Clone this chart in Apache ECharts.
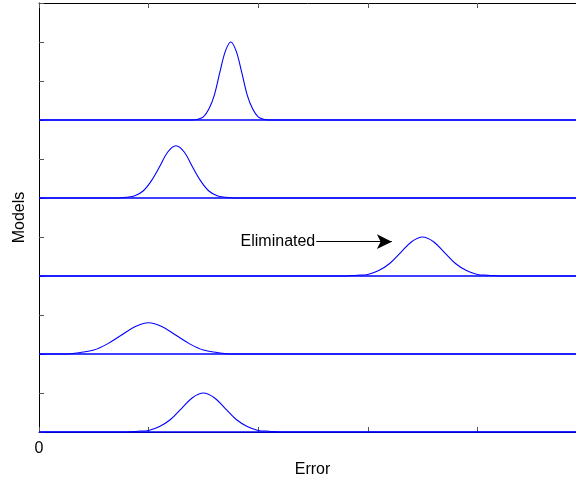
<!DOCTYPE html>
<html lang="en">
<head>
    <meta charset="UTF-8">
    <title>Models vs Error</title>
    <script src="https://cdn.jsdelivr.net/npm/echarts@6.0.0/dist/echarts.min.js"></script>
    <style>
        body { margin: 0; background: #fff; }
        #chart { width: 576px; height: 480px; }
    </style>
</head>
<body>
    <div id="chart"></div>
    <script>
        // baseline of each model (top to bottom)
        const baselines = [4, 3, 2, 1, 0];
        const xMin = 0;
        const xMax = 4.9;

        // error distributions (height above each baseline)
        const curve1X = [1.40, 1.45, 1.50, 1.55, 1.60, 1.65, 1.70, 1.75, 1.80, 1.85, 1.90, 1.95, 2.00, 2.05, 2.10];
        const curve1Y = [0.00, 0.01, 0.04, 0.14, 0.32, 0.61, 0.88, 1.00, 0.88, 0.61, 0.32, 0.14, 0.04, 0.01, 0.00];

        const curve2X = [0.725, 0.80, 0.875, 0.95, 1.025, 1.10, 1.175, 1.25, 1.325, 1.40, 1.475, 1.55, 1.625, 1.70, 1.775];
        const curve2Y = [0.00, 0.01, 0.03, 0.09, 0.22, 0.40, 0.59, 0.67, 0.59, 0.40, 0.22, 0.09, 0.03, 0.01, 0.00];

        const curve3X = [2.8, 2.9, 3.0, 3.1, 3.2, 3.3, 3.4, 3.5, 3.6, 3.7, 3.8, 3.9, 4.0, 4.1, 4.2];
        const curve3Y = [0.00, 0.01, 0.02, 0.07, 0.16, 0.30, 0.44, 0.50, 0.44, 0.30, 0.16, 0.07, 0.02, 0.01, 0.00];

        const curve4X = [0.125, 0.25, 0.375, 0.50, 0.625, 0.75, 0.875, 1.00, 1.125, 1.25, 1.375, 1.50, 1.625, 1.75, 1.875];
        const curve4Y = [0.00, 0.00, 0.02, 0.05, 0.13, 0.24, 0.35, 0.40, 0.35, 0.24, 0.13, 0.05, 0.02, 0.00, 0.00];

        const curve5X = [0.8, 0.9, 1.0, 1.1, 1.2, 1.3, 1.4, 1.5, 1.6, 1.7, 1.8, 1.9, 2.0, 2.1, 2.2];
        const curve5Y = [0.00, 0.01, 0.02, 0.07, 0.16, 0.30, 0.44, 0.50, 0.44, 0.30, 0.16, 0.07, 0.02, 0.01, 0.00];

        const curvesX = [curve1X, curve2X, curve3X, curve4X, curve5X];
        const curvesY = [curve1Y, curve2Y, curve3Y, curve4Y, curve5Y];

        // annotation
        const noteText = 'Eliminated';
        const arrowFrom = [2.53, 2.44];
        const arrowTo = [3.22, 2.44];

        const xTicks = [0, 1, 2, 3, 4];
        const xLabels = ['0', '', '', '', ''];

        const font = 'Liberation Sans, Arial, sans-serif';
        const blue = '#0000ff';

        function buildData(i) {
            const pts = [[xMin, baselines[i]]];
            curvesX[i].forEach((x, k) => pts.push([x, baselines[i] + curvesY[i][k]]));
            pts.push([xMax, baselines[i]]);
            return pts;
        }

        const series = baselines.map((b, i) => ({
            type: 'line',
            data: buildData(i),
            showSymbol: false,
            smooth: 0.35,
            lineStyle: { color: blue, width: 1.1 },
            silent: true,
            z: 3,
            markLine: {
                silent: true,
                symbol: 'none',
                label: { show: false },
                lineStyle: { color: blue, width: 1.6, type: 'solid' },
                data: [{ yAxis: b }]
            }
        }));

        // arrow pointing at the eliminated model
        series.push({
            type: 'line',
            data: [],
            silent: true,
            markLine: {
                silent: true,
                symbol: ['none', 'arrow'],
                symbolSize: [11, 15],
                lineStyle: { color: '#000', width: 1, type: 'solid' },
                label: {
                    show: true,
                    position: 'start',
                    distance: 1,
                    formatter: noteText,
                    color: '#000',
                    fontFamily: font,
                    fontSize: 16
                },
                data: [[{ coord: arrowFrom }, { coord: arrowTo }]]
            }
        });

        const chart = echarts.init(document.getElementById('chart'));
        chart.setOption({
            animation: false,
            grid: { left: 39, right: 0, top: 3, bottom: 48, containLabel: false, outerBoundsMode: 'none' },
            xAxis: [
                {
                    type: 'value',
                    min: xMin,
                    max: xMax,
                    interval: 1,
                    name: 'Error',
                    nameLocation: 'middle',
                    nameGap: 27,
                    nameTextStyle: { color: '#000', fontFamily: font, fontSize: 16, padding: [0, 0, 0, 10] },
                    axisLine: { show: true, lineStyle: { color: '#000', width: 1 } },
                    axisTick: { show: true, inside: true, length: 5, lineStyle: { color: '#555' } },
                    axisLabel: {
                        color: '#000', fontFamily: font, fontSize: 16, margin: 9,
                        formatter: v => xLabels[xTicks.indexOf(v)] || ''
                    },
                    splitLine: { show: false }
                },
                {
                    type: 'value',
                    position: 'top',
                    min: xMin,
                    max: xMax,
                    interval: 1,
                    axisLine: { show: true, lineStyle: { color: '#000', width: 1 } },
                    axisTick: { show: true, inside: true, length: 5, lineStyle: { color: '#555' } },
                    axisLabel: { show: false },
                    splitLine: { show: false }
                }
            ],
            yAxis: {
                type: 'value',
                min: 0,
                max: 5.5,
                interval: 0.5,
                name: 'Models',
                nameLocation: 'middle',
                nameGap: 11,
                nameTextStyle: { color: '#000', fontFamily: font, fontSize: 16 },
                axisLine: { show: true, lineStyle: { color: '#000', width: 1 } },
                axisTick: { show: true, inside: true, length: 5, lineStyle: { color: '#555' } },
                axisLabel: { show: false },
                splitLine: { show: false }
            },
            series: series
        });
    </script>
</body>
</html>
